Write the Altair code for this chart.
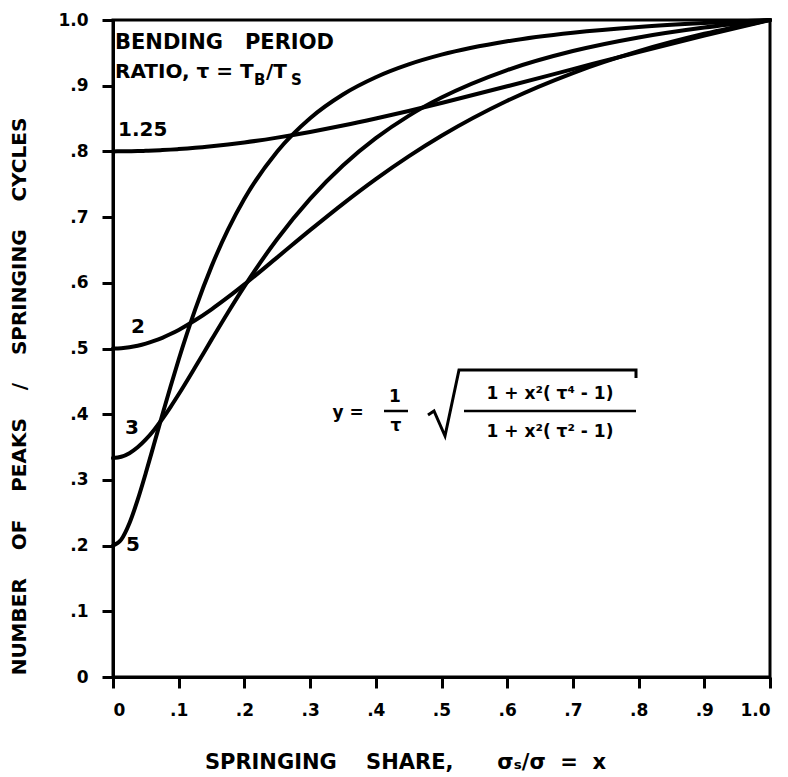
import altair as alt
import pandas as pd

# ---- data ----
x_vals = [0, .0125, .025, .0375, .05, .0625, .075, .0875, .1, .125, .15, .175, .2, .25,
          .3, .35, .4, .45, .5, .6, .7, .8, .9, 1.0]
tau_125 = [.8000, .8001, .8002, .8005, .8009, .8014, .8020, .8027, .8035, .8054, .8078, .8105,
           .8136, .8210, .8296, .8393, .8500, .8615, .8737, .8991, .9252, .9512, .9762, 1.0]
tau_2 = [.5000, .5005, .5019, .5042, .5074, .5115, .5163, .5220, .5283, .5429, .5597, .5781,
         .5976, .6387, .6801, .7202, .7578, .7924, .8238, .8771, .9193, .9526, .9790, 1.0]
tau_3 = [.3333, .3352, .3407, .3496, .3616, .3761, .3927, .4109, .4303, .4714, .5135, .5549,
         .5946, .6667, .7278, .7785, .8201, .8541, .8819, .9238, .9528, .9735, .9886, 1.0]
tau_5 = [.2000, .2091, .2340, .2695, .3108, .3546, .3987, .4418, .4833, .5592, .6250, .6809,
         .7279, .8000, .8506, .8867, .9129, .9324, .9472, .9676, .9806, .9894, .9955, 1.0]
series_names = ["1.25", "2", "3", "5"]
tick_vals = [0, .1, .2, .3, .4, .5, .6, .7, .8, .9, 1.0]
tick_labels = ["0", ".1", ".2", ".3", ".4", ".5", ".6", ".7", ".8", ".9", "1.0"]

rows = []
for name, ys in zip(series_names, [tau_125, tau_2, tau_3, tau_5]):
    for i, (xv, yv) in enumerate(zip(x_vals, ys)):
        rows.append({"tau": name, "x": xv, "y": yv, "i": i})
df = pd.DataFrame(rows)

FONT = "DejaVu Sans"
NB = "\u00a0"
label_expr = "[" + ",".join("'%s'" % t for t in tick_labels) + "][round(datum.value*10)]"

xs = alt.Scale(domain=[0, 1], nice=False)
ys = alt.Scale(domain=[0, 1], nice=False)

x_title = "SPRINGING" + NB * 4 + "SHARE," + NB * 6 + "σₛ/σ" + NB * 2 + "=" + NB * 2 + "x"
y_title = ("NUMBER" + NB * 4 + "OF" + NB * 4 + "PEAKS" + NB * 4 + "/" + NB * 4 +
           "SPRINGING" + NB * 4 + "CYCLES")

X = alt.X("x:Q", scale=xs, axis=alt.Axis(
    values=tick_vals, labelExpr=label_expr, title=x_title, grid=False,
    titleX=292, titleY=85, titleAlign="center", titleBaseline="middle"))
Y = alt.Y("y:Q", scale=ys, axis=alt.Axis(
    values=tick_vals, labelExpr=label_expr, title=y_title, grid=False,
    titleX=-94, titleY=376, titleAngle=270, titleAlign="center", titleBaseline="middle"))

lines = alt.Chart(df).mark_line(color="black", strokeWidth=4, interpolate="monotone",
                                strokeCap="round").encode(
    x=X, y=Y, detail="tau:N", order="i:Q")

def px(p):
    return (p - 113) / 657.0

def py(p):
    return (677 - p) / 657.0

# curve labels
lab = pd.DataFrame({
    "x": [px(118), px(131), px(125), px(126)],
    "y": [py(130), py(327), py(428), py(545)],
    "t": series_names,
})
labels = alt.Chart(lab).mark_text(font=FONT, fontWeight="bold", fontSize=20, align="left",
                                  baseline="middle", color="black").encode(
    x=alt.X("x:Q", scale=xs), y=alt.Y("y:Q", scale=ys), text="t:N")

# header text
hdr1 = pd.DataFrame({"x": [px(115)], "y": [py(43)], "t": ["BENDING" + NB * 3 + "PERIOD"]})
header1 = alt.Chart(hdr1).mark_text(font=FONT, fontWeight="bold", fontSize=21, align="left",
                                    baseline="middle", color="black").encode(
    x=alt.X("x:Q", scale=xs), y=alt.Y("y:Q", scale=ys), text="t:N")
hdr = pd.DataFrame({
    "x": [px(115), px(266)],
    "y": [py(72), py(72)],
    "t": ["RATIO," + NB + "τ" + NB + "=" + NB + "T", "/T"],
})
header = alt.Chart(hdr).mark_text(font=FONT, fontWeight="bold", fontSize=20, align="left",
                                  baseline="middle", color="black").encode(
    x=alt.X("x:Q", scale=xs), y=alt.Y("y:Q", scale=ys), text="t:N")
sub = pd.DataFrame({"x": [px(254), px(291)], "y": [py(80), py(80)], "t": ["B", "S"]})
subs = alt.Chart(sub).mark_text(font=FONT, fontWeight="bold", fontSize=15, align="left",
                                baseline="middle", color="black").encode(
    x=alt.X("x:Q", scale=xs), y=alt.Y("y:Q", scale=ys), text="t:N")

# formula
fm = pd.DataFrame({
    "x": [px(348), px(395), px(396), px(550), px(550)],
    "y": [py(413), py(397), py(426), py(394), py(432)],
    "t": ["y" + NB + "=", "1", "τ", "1 + x²( τ⁴ - 1)", "1 + x²( τ² - 1)"],
})
formula = alt.Chart(fm).mark_text(font=FONT, fontWeight="bold", fontSize=17, align="center",
                                  baseline="middle", color="black").encode(
    x=alt.X("x:Q", scale=xs), y=alt.Y("y:Q", scale=ys), text="t:N")
bars = pd.DataFrame({"x": [px(384), px(464)], "x2": [px(408), px(636)],
                     "y": [py(411), py(411)]})
fbars = alt.Chart(bars).mark_rule(color="black", strokeWidth=2.5).encode(
    x=alt.X("x:Q", scale=xs), x2="x2:Q", y=alt.Y("y:Q", scale=ys))
rad = pd.DataFrame({
    "x": [px(428), px(434), px(445), px(459), px(636), px(636)],
    "y": [py(415), py(411), py(436), py(370), py(370), py(378)],
    "i": [0, 1, 2, 3, 4, 5],
})
radical = alt.Chart(rad).mark_line(color="black", strokeWidth=3, strokeJoin="miter").encode(
    x=alt.X("x:Q", scale=xs), y=alt.Y("y:Q", scale=ys), order="i:Q")

chart = alt.layer(lines, labels, header1, header, subs, formula, fbars, radical).properties(
    width=657, height=657,
    autosize=alt.AutoSizeParams(type="none"),
    padding={"left": 105, "top": 12, "right": 10, "bottom": 100},
).configure_view(stroke="black", strokeWidth=3).configure_axis(
    domainColor="black", domainWidth=3, tickColor="black", tickWidth=3, tickSize=11,
    labelFont=FONT, labelFontWeight="bold", labelFontSize=17, labelColor="black",
    labelPadding=14, titleFont=FONT, titleFontWeight="bold", titleFontSize=20,
    titleColor="black",
).configure_axisX(titleFontSize=21)

chart.save("out.html", embed_options={"renderer": "svg", "actions": False})
